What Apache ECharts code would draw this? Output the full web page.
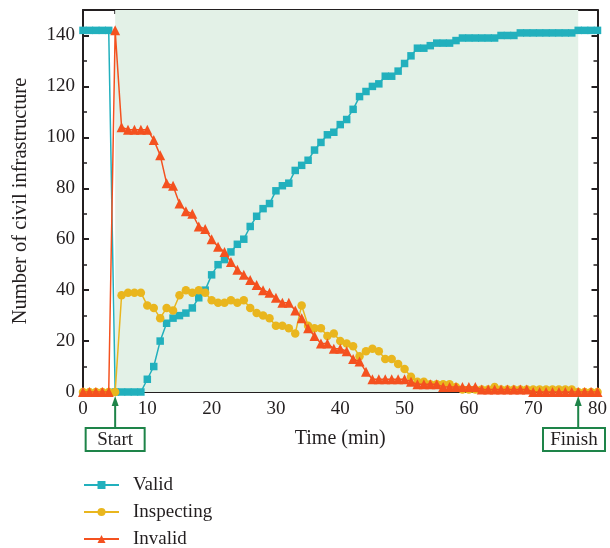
<!DOCTYPE html>
<html><head><meta charset="utf-8">
<script src="https://cdn.jsdelivr.net/npm/echarts@6/dist/echarts.min.js"></script>
<style>html,body{margin:0;padding:0;background:#fff}#c{width:610px;height:548px}</style>
</head><body><div id="c"></div>
<script>
// Time in minutes (one sample per minute)
const minutes = Array.from({length: 81}, (_, i) => i);
const valid = [
  142,142,142,142,142,
  0,0,0,0,0,
  5,10,20,27,29,30,31,33,37,40,
  46,50,52,55,58,60,65,69,72,74,
  79,81,82,87,89,91,95,98,101,102,
  105,107,111,116,118,120,121,124,124,126,
  129,132,135,135,136,137,137,137,138,139,
  139,139,139,139,139,140,140,140,141,141,
  141,141,141,141,141,141,141,142,142,142,142
];
const inspecting = [
  0,0,0,0,0,0,38,39,39,39,
  34,33,29,33,32,38,40,39,40,39,
  36,35,35,36,35,36,33,31,30,29,
  26,26,25,23,34,26,25,25,22,23,
  20,19,18,14,16,17,16,13,13,11,
  9,6,4,4,3,3,3,3,2,1,
  1,1,1,1,2,1,1,1,1,1,
  1,1,1,1,1,1,1,0,0,0,0
];
const invalid = [
  0,0,0,0,0,142,104,103,103,103,
  103,99,93,82,81,74,71,70,65,64,
  60,57,55,51,48,46,44,42,40,39,
  37,35,35,32,29,25,22,19,19,17,
  17,16,13,12,8,5,5,5,5,5,
  5,4,3,3,3,3,2,2,2,2,
  2,2,1,1,1,1,1,1,1,1,
  0,0,0,0,0,0,0,0,0,0,0
];
const seriesNames = ['Valid', 'Inspecting', 'Invalid'];
const startMin = 5;
const finishMin = 77;
const annotationLabels = ['Start', 'Finish'];

const FONT = 'Liberation Serif';
const INK = '#231f20';
const GREEN = '#1e8449';
const colors = ['#22b0bd', '#e9b61e', '#f4511f'];

const toPairs = arr => arr.map((v, i) => [minutes[i], v]);

function axisX(pos, showLabel) {
  return {
    type: 'value', position: pos, min: 0, max: 80, interval: 10,
    axisLine: {show: true, onZero: false, lineStyle: {color: INK, width: 2}},
    axisTick: {show: true, inside: true, length: 6, lineStyle: {color: INK, width: 2}},
    minorTick: {show: true, splitNumber: 2, length: 4, lineStyle: {color: INK, width: 1.5}},
    splitLine: {show: false},
    axisLabel: {show: showLabel, fontFamily: FONT, fontSize: 19, color: INK, margin: 8},
    name: showLabel ? 'Time (min)' : '', nameLocation: 'middle', nameGap: 37,
    nameTextStyle: {fontFamily: FONT, fontSize: 20, color: INK}
  };
}
function axisY(pos, showLabel) {
  return {
    type: 'value', position: pos, min: 0, max: 150, interval: 20,
    axisLine: {show: true, onZero: false, lineStyle: {color: INK, width: 2}},
    axisTick: {show: true, inside: true, length: 6, lineStyle: {color: INK, width: 2}},
    minorTick: {show: true, splitNumber: 2, length: 4, lineStyle: {color: INK, width: 1.5}},
    splitLine: {show: false},
    axisLabel: {show: showLabel, fontFamily: FONT, fontSize: 19, color: INK, margin: 8,
      formatter: v => (v > 140 ? '' : v)},
    name: showLabel ? 'Number of civil infrastructure' : '', nameLocation: 'middle', nameGap: 52,
    nameTextStyle: {fontFamily: FONT, fontSize: 20.5, color: INK}
  };
}

const chart = echarts.init(document.getElementById('c'), null, {renderer: 'canvas'});
const symbols = ['rect', 'circle', 'triangle'];
const sizes = [7.5, 8.5, 10];
const datas = [valid, inspecting, invalid];

const series = [{
  name: 'shade', type: 'line', data: [], z: 0, silent: true,
  markArea: {silent: true, itemStyle: {color: '#e3f1e7'},
    data: [[{xAxis: startMin}, {xAxis: finishMin}]]}
}];
seriesNames.forEach((n, k) => series.push({
  name: n, type: 'line', data: toPairs(datas[k]), z: 2 + k,
  symbol: symbols[k], symbolSize: sizes[k], showAllSymbol: true,
  itemStyle: {color: colors[k]},
  lineStyle: {color: colors[k], width: 1.5},
  emphasis: {disabled: true}, animation: false
}));

chart.setOption({
  animation: false,
  backgroundColor: '#fff',
  grid: {left: 83, right: 11, top: 10, bottom: 156},
  xAxis: [axisX('bottom', true), axisX('top', false)],
  yAxis: [axisY('left', true), axisY('right', false)],
  legend: {
    data: seriesNames, orient: 'vertical', left: 83, top: 475, padding: 0,
    height: 90,
    itemWidth: 35, itemHeight: 10, itemGap: 7,
    textStyle: {fontFamily: FONT, fontSize: 19, color: INK, lineHeight: 20, padding: [0, 0, 0, 9]}
  },
  series: series
});

// annotations
const graphics = [];
[startMin, finishMin].forEach((m, i) => {
  const px = chart.convertToPixel({xAxisIndex: 0}, m);
  const w = i === 0 ? 59 : 62, h = 23;
  let bx = px - w / 2;
  if (bx + w > 605) bx = 605 - w;
  const boxTop = 428;
  graphics.push({type: 'line', shape: {x1: px, y1: boxTop, x2: px, y2: 404},
    style: {stroke: GREEN, lineWidth: 2}, z: 10});
  graphics.push({type: 'polygon', shape: {points: [[px, 396], [px - 3.5, 406], [px + 3.5, 406]]},
    style: {fill: GREEN}, z: 10});
  graphics.push({type: 'rect', shape: {x: bx, y: boxTop, width: w, height: h},
    style: {fill: '#fff', stroke: GREEN, lineWidth: 2}, z: 10});
  graphics.push({type: 'text', x: bx + w / 2, y: boxTop + h / 2 + 1,
    style: {text: annotationLabels[i], fontFamily: FONT, fontSize: 19, fill: INK,
      align: 'center', verticalAlign: 'middle'}, z: 11});
});
chart.setOption({graphic: graphics});
</script></body></html>
